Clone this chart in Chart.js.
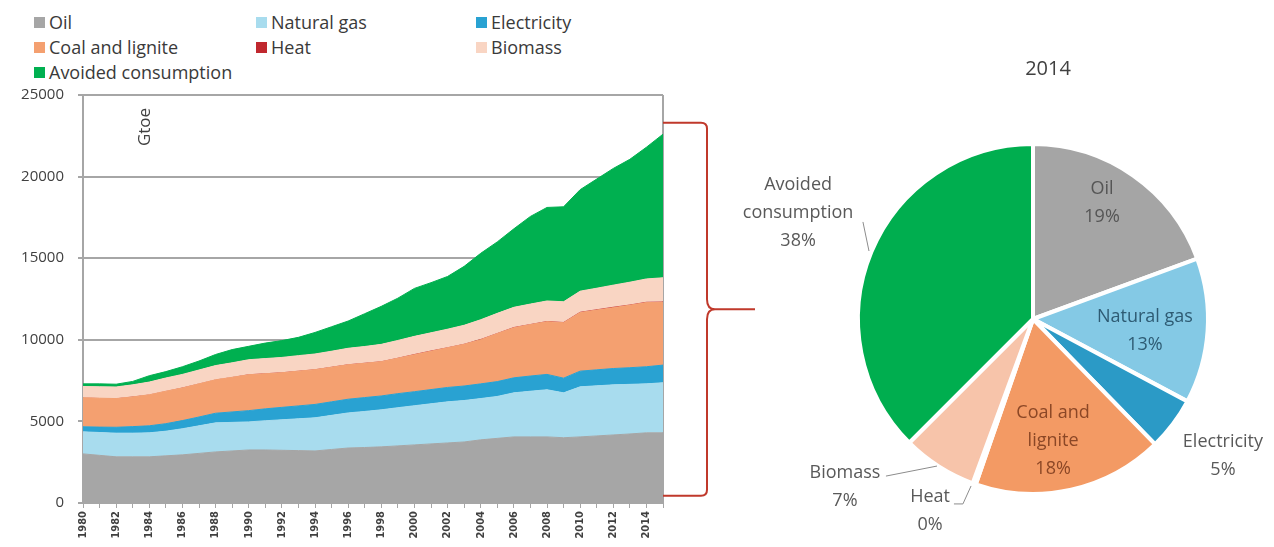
<!DOCTYPE html>
<html><head><meta charset="utf-8">
<script src="https://cdn.jsdelivr.net/npm/chart.js@4.4.1/dist/chart.umd.min.js"></script>
<style>
html,body{margin:0;padding:0;background:#fff;width:1274px;height:547px;overflow:hidden;font-family:'Open Sans',sans-serif;}
#wrap{position:relative;width:1274px;height:547px;}
#area{position:absolute;left:0;top:0;}
#pie{position:absolute;left:700px;top:0;}
.li{position:absolute;display:flex;align-items:center;font-size:18px;line-height:20px;color:#3a3a3a;white-space:nowrap;transform:translateY(-50%);}
.sw{width:11px;height:11px;margin-right:4px;flex:none;}
</style></head>
<body><div id="wrap">
<div id="legend"></div>
<canvas id="pie" width="574" height="547"></canvas>
<canvas id="area" width="800" height="547"></canvas>
</div>
<script>
// ---------- DATA ----------
const years = ['1980','1981','1982','1983','1984','1985','1986','1987','1988','1989','1990','1991','1992','1993','1994','1995','1996','1997','1998','1999','2000','2001','2002','2003','2004','2005','2006','2007','2008','2009','2010','2011','2012','2013','2014','2015'];
const seriesNames = ['Oil','Natural gas','Electricity','Coal and lignite','Heat','Biomass','Avoided consumption'];
const oil = [3010,2920,2830,2830,2830,2890,2950,3040,3130,3190,3250,3250,3230,3210,3190,3280,3370,3400,3440,3500,3560,3620,3680,3740,3870,3960,4050,4050,4050,4000,4050,4110,4170,4230,4300,4300];
const naturalGas = [1350,1400,1450,1450,1470,1510,1600,1690,1780,1750,1720,1790,1870,1950,2030,2090,2150,2210,2270,2340,2400,2460,2520,2540,2530,2570,2700,2800,2890,2750,3070,3070,3070,3040,3000,3070];
const electricity = [310,330,360,400,430,460,500,540,590,640,690,730,760,790,820,830,840,850,850,860,860,870,880,890,900,910,920,930,940,900,960,980,1000,1020,1050,1080];
const coalLignite = [1780,1770,1760,1820,1900,1990,2000,2030,2050,2120,2200,2150,2120,2130,2130,2120,2110,2100,2100,2170,2270,2350,2430,2550,2710,2940,3070,3150,3230,3400,3590,3660,3730,3830,3930,3850];
const heat = [20,20,20,20,20,20,20,20,20,20,30,30,30,30,30,30,30,30,30,30,40,40,40,40,40,40,40,40,40,40,50,50,50,50,50,50];
const biomass = [670,680,690,720,760,790,810,830,850,870,890,900,910,920,930,950,980,1000,1030,1060,1080,1090,1100,1130,1180,1200,1210,1220,1230,1240,1260,1290,1330,1360,1400,1450];
const avoided = [160,180,170,210,390,390,470,550,680,810,820,950,1030,1120,1320,1500,1670,2010,2330,2590,2940,3070,3230,3610,4070,4380,4810,5370,5730,5820,6220,6690,7150,7530,8070,8800];
const yTicks = [0,5000,10000,15000,20000,25000];
const unitLabel = 'Gtoe';
const pieTitle = '2014';
const pieShares = [19.4,13.4,4.9,17.6,0.3,6.9,37.5];

// ---------- STYLE ----------
const areaColors = ['#a6a6a6','#a8dcee','#29a2d2','#f4a070','#c0282e','#f9d5c3','#00b050'];
const pieColors = ['#a5a5a5','#84c9e5','#2b9ac6','#f39a64','#c0282e','#f7c4aa','#00ae4f'];
const pieTextColors = ['#555555','#2e5b73','#595959','#8b4726','#595959','#595959','#595959'];
const pieLabelLines = [['Oil'],['Natural gas'],['Electricity'],['Coal and','lignite'],['Heat'],['Biomass'],['Avoided','consumption']];
const pieLabelPos = [[0.399,-0.671],[0.647,0.069],[1.098,0.792],[0.116,0.705],[-0.595,1.110],[-1.087,0.971],[-1.358,-0.613]];
const pieLeaders = [null,null,null,null,
  [[-0.457,1.069],[-0.405,1.069],[-0.358,0.965]],
  [[-0.850,0.908],[-0.555,0.850]],
  [[-0.983,-0.561],[-0.948,-0.393]]];

// ---------- LEGEND ----------
const legCols = [34,256,476], legRows = [22,47,72];
const leg = document.getElementById('legend');
seriesNames.forEach((n,i)=>{
  const d = document.createElement('div'); d.className='li';
  d.style.left = legCols[i%3]+'px'; d.style.top = legRows[Math.floor(i/3)]+'px';
  d.innerHTML = '<span class="sw" style="background:'+areaColors[i]+'"></span><span>'+n+'</span>';
  leg.appendChild(d);
});

// ---------- AREA CHART ----------
const seriesData = [oil,naturalGas,electricity,coalLignite,heat,biomass,avoided];
const areaPlugin = {
  id:'areaExtras',
  beforeDatasetsDraw(chart){
    const {ctx, chartArea:a} = chart;
    ctx.save();
    ctx.strokeStyle='#a6a6a6'; ctx.lineWidth=2;
    ctx.beginPath(); ctx.moveTo(a.right, a.top); ctx.lineTo(a.right, a.bottom); ctx.stroke();
    ctx.translate(a.left+62, a.top+32); ctx.rotate(-Math.PI/2);
    ctx.fillStyle='#404040'; ctx.font='17px "Open Sans"'; ctx.textAlign='center'; ctx.textBaseline='middle';
    ctx.fillText(unitLabel,0,0);
    ctx.restore();
  },
  afterDraw(chart){
    const {ctx, chartArea:a, scales:{y}} = chart;
    const top = y.getPixelForValue(23300), bot = y.getPixelForValue(450);
    const mid = (top+bot)/2, x0 = a.right, xv = a.right+44, tip = a.right+92;
    ctx.save();
    ctx.strokeStyle='#c0392b'; ctx.lineWidth=2;
    ctx.beginPath();
    ctx.moveTo(x0, top); ctx.lineTo(xv-6, top);
    ctx.quadraticCurveTo(xv, top, xv, top+6);
    ctx.lineTo(xv, mid-10);
    ctx.quadraticCurveTo(xv, mid, xv+8, mid);
    ctx.lineTo(tip, mid);
    ctx.moveTo(xv+8, mid);
    ctx.quadraticCurveTo(xv, mid, xv, mid+10);
    ctx.lineTo(xv, bot-6);
    ctx.quadraticCurveTo(xv, bot, xv-6, bot);
    ctx.lineTo(x0, bot);
    ctx.stroke();
    ctx.restore();
  }
};
new Chart(document.getElementById('area'), {
  type:'line',
  data:{labels:years, datasets: seriesData.map((d,i)=>({
    label:seriesNames[i], data:d, backgroundColor:areaColors[i], borderColor:areaColors[i],
    borderWidth: i===4?0:1, fill: i===0?'origin':'-1', pointRadius:0, tension:0
  }))},
  options:{
    responsive:false, animation:false,
    layout:{padding:{left:0,top:95,right:137,bottom:0}},
    plugins:{legend:{display:false}, tooltip:{enabled:false}},
    scales:{
      x:{ offset:false,
        grid:{display:true, drawOnChartArea:false, drawTicks:true, tickLength:5, color:'#a6a6a6', lineWidth:1},
        border:{display:true, color:'#a6a6a6', width:2},
        ticks:{autoSkip:false, maxRotation:90, minRotation:90, padding:3, color:'#404040',
          font:{family:"'DejaVu Sans Condensed','Liberation Sans Narrow',sans-serif", size:11, weight:'bold'},
          callback:function(v,i){ return i%2===0 ? this.getLabelForValue(v) : ''; }},
        afterFit(s){ s.height = 44; }
      },
      y:{ stacked:true, min:0, max:25000,
        afterBuildTicks(s){ s.ticks = yTicks.map(v=>({value:v})); },
        ticks:{padding:14, color:'#404040', font:{family:'Open Sans', size:15}, callback:(v)=>String(v)},
        grid:{color:'#a6a6a6', lineWidth:2, tickLength:5, drawTicks:true},
        border:{display:true, color:'#a6a6a6', width:2},
        afterFit(s){ s.width = 83; }
      }
    }
  },
  plugins:[areaPlugin]
});

// ---------- PIE CHART ----------
const piePlugin = {
  id:'pieLabels',
  afterDraw(chart){
    const {ctx} = chart;
    const meta = chart.getDatasetMeta(0);
    const arc0 = meta.data[0];
    const cx = arc0.x, cy = arc0.y, r = arc0.outerRadius - 2;
    const total = pieShares.reduce((a,b)=>a+b,0);
    ctx.save();
    ctx.fillStyle='#404040'; ctx.font='20px "Open Sans"'; ctx.textAlign='center'; ctx.textBaseline='middle';
    ctx.fillText(pieTitle, cx+15, 69);
    ctx.font='18px "Open Sans"';
    const lh = 28;
    pieShares.forEach((v,i)=>{
      const lines = pieLabelLines[i].concat([Math.round(v/total*100)+'%']);
      const px = cx + pieLabelPos[i][0]*r, py = cy + pieLabelPos[i][1]*r;
      ctx.fillStyle = pieTextColors[i];
      lines.forEach((t,k)=>{ ctx.fillText(t, px, py + (k-(lines.length-1)/2)*lh); });
      const L = pieLeaders[i];
      if (L){
        ctx.strokeStyle='#8c8c8c'; ctx.lineWidth=1; ctx.beginPath();
        L.forEach((p,k)=>{ const X=cx+p[0]*r, Y=cy+p[1]*r; k?ctx.lineTo(X,Y):ctx.moveTo(X,Y); });
        ctx.stroke();
      }
    });
    ctx.restore();
  }
};
new Chart(document.getElementById('pie'), {
  type:'pie',
  data:{labels:seriesNames, datasets:[{data:pieShares, backgroundColor:pieColors, borderColor:'#ffffff', borderWidth:4}]},
  options:{
    responsive:false, animation:false,
    layout:{padding:{left:156, right:64, top:142, bottom:51}},
    plugins:{legend:{display:false}, tooltip:{enabled:false}}
  },
  plugins:[piePlugin]
});
</script>
</body></html>
